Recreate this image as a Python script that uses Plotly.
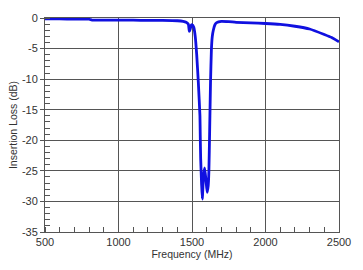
import plotly.graph_objects as go

freq_mhz = [500, 600, 700, 800, 820, 900, 1000, 1100, 1200, 1300, 1400, 1440, 1460,
            1475, 1482, 1488, 1494, 1502, 1512, 1522, 1532, 1543, 1554, 1556, 1559,
            1565, 1570, 1578, 1586, 1595, 1603, 1610, 1615, 1620, 1626, 1632, 1638,
            1645, 1656, 1668, 1700, 1750, 1800, 1900, 2000, 2100, 2200, 2300, 2400,
            2450, 2500]
loss_db = [-0.15, -0.15, -0.2, -0.2, -0.35, -0.35, -0.35, -0.35, -0.4, -0.4, -0.45,
           -0.55, -0.7, -1.0, -2.2, -1.8, -1.2, -1.1, -1.5, -3.0, -6.0, -10.5, -16.0,
           -19.0, -23.0, -27.0, -29.6, -26.0, -24.5, -26.5, -28.5, -27.5, -25.0, -18.6,
           -10.5, -5.2, -3.0, -2.0, -1.1, -0.75, -0.55, -0.6, -0.7, -0.8, -0.9, -1.05,
           -1.35, -1.8, -2.7, -3.2, -3.9]

x_ticks = [500, 1000, 1500, 2000, 2500]
y_ticks = [0, -5, -10, -15, -20, -25, -30, -35]

fig = go.Figure()
fig.add_trace(go.Scatter(x=freq_mhz, y=loss_db, mode="lines",
                         line=dict(color="#1010e0", width=2.8, shape="spline", smoothing=0.4),
                         showlegend=False))

font_family = "Liberation Sans, Arial, sans-serif"
fig.update_layout(
    width=363, height=270,
    margin=dict(l=45, r=22, t=18, b=35),
    paper_bgcolor="white", plot_bgcolor="white",
    font=dict(family=font_family, size=11, color="#333333"),
)
fig.update_xaxes(
    range=[500, 2500], tickvals=x_ticks, ticktext=[str(v) for v in x_ticks],
    showgrid=True, gridcolor="#555555", gridwidth=1,
    showline=True, linecolor="#555555", linewidth=1, mirror=True,
    ticks="", zeroline=False,
    tickfont=dict(size=11, color="#333333"),
    title=dict(text="Frequency (MHz)", font=dict(size=10.5, color="#333333"), standoff=2),
    minor=dict(ticks="inside", ticklen=5, dtick=100, tickcolor="#555555", showgrid=False),
)
fig.update_yaxes(
    range=[-35, 0], tickvals=y_ticks, ticktext=[str(v) for v in y_ticks],
    showgrid=True, gridcolor="#555555", gridwidth=1,
    showline=True, linecolor="#555555", linewidth=1, mirror=True,
    ticks="outside", ticklen=4, tickcolor="#555555", zeroline=False,
    tickfont=dict(size=11, color="#333333"),
    title=dict(text="Insertion Loss (dB)", font=dict(size=10.5, color="#333333"), standoff=2),
    minor=dict(ticks="inside", ticklen=5, dtick=1, tickcolor="#555555", showgrid=False),
)

fig.write_html("out.html")
